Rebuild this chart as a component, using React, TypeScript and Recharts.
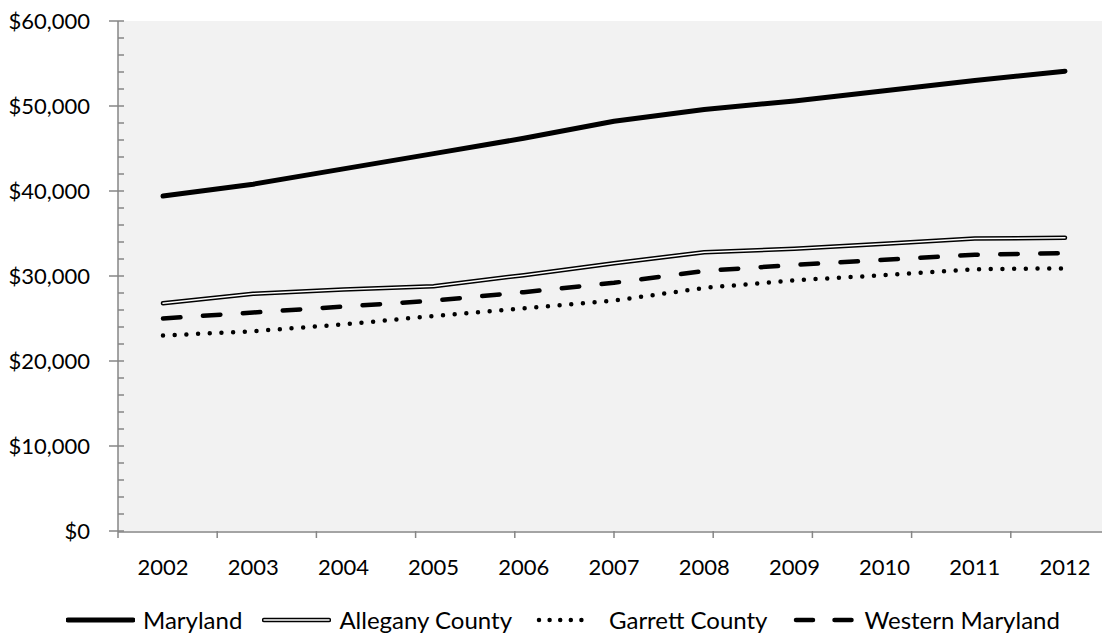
import React from 'react';
import { LineChart, Line, XAxis, YAxis, CartesianGrid, Legend } from 'recharts';

const years = ['2002', '2003', '2004', '2005', '2006', '2007', '2008', '2009', '2010', '2011', '2012'];
const maryland = [39400, 40800, 42600, 44400, 46200, 48200, 49600, 50600, 51800, 53000, 54100];
const allegany = [26800, 27900, 28400, 28800, 30100, 31500, 32800, 33200, 33800, 34400, 34500];
const garrett = [23000, 23500, 24300, 25300, 26200, 27100, 28600, 29500, 30100, 30800, 30900];
const western = [25000, 25700, 26400, 27100, 28100, 29200, 30600, 31300, 31900, 32500, 32700];
const yTicks = [0, 10000, 20000, 30000, 40000, 50000, 60000];
const yMinorTicks = [0, 2000, 4000, 6000, 8000, 10000, 12000, 14000, 16000, 18000, 20000, 22000, 24000, 26000, 28000, 30000, 32000, 34000, 36000, 38000, 40000, 42000, 44000, 46000, 48000, 50000, 52000, 54000, 56000, 58000, 60000];
const edgeTicks = [0, 1, 2, 3, 4, 5, 6, 7, 8, 9, 10, 11];
const seriesNames = ['Maryland', 'Allegany County', 'Garrett County', 'Western Maryland'];

const data = years.map((y, i) => ({
  year: y,
  maryland: maryland[i],
  allegany: allegany[i],
  garrett: garrett[i],
  western: western[i],
}));

const FONT = 'Lato, "Open Sans", sans-serif';
const AXIS = '#868686';

const fmt = (v: number) => '$' + v.toLocaleString('en-US');
const blank = () => '';

function Icon({ kind }: { kind: number }) {
  return (
    <svg width={69} height={12} style={{ display: 'block' }}>
      {kind === 0 && <line x1={2} y1={6} x2={67} y2={6} stroke="#000" strokeWidth={5} strokeLinecap="round" />}
      {kind === 1 && (
        <g>
          <line x1={2} y1={6} x2={67} y2={6} stroke="#000" strokeWidth={4.5} strokeLinecap="round" />
          <line x1={2} y1={6} x2={67} y2={6} stroke="#fff" strokeWidth={1.5} strokeLinecap="round" />
        </g>
      )}
      {kind === 2 && <line x1={7} y1={6} x2={60} y2={6} stroke="#000" strokeWidth={4.5} strokeLinecap="round" strokeDasharray="0 10.6" />}
      {kind === 3 && <line x1={9} y1={6} x2={69} y2={6} stroke="#000" strokeWidth={4.5} strokeLinecap="round" strokeDasharray="17 21.5" />}
    </svg>
  );
}

function LegendContent() {
  return (
    <div style={{ display: 'flex', justifyContent: 'flex-start', alignItems: 'center', height: 28, paddingLeft: 66, fontFamily: FONT, fontSize: 24, color: '#000' }}>
      {seriesNames.map((n, i) => (
        <div key={n} style={{ display: 'flex', alignItems: 'center', marginRight: i < seriesNames.length - 1 ? 20 : 0 }}>
          <Icon kind={i} />
          <span style={{ marginLeft: 8, lineHeight: '28px', whiteSpace: 'nowrap' }}>{n}</span>
        </div>
      ))}
    </div>
  );
}

export default function App() {
  return (
    <div style={{ position: 'absolute', left: 0, top: 0, width: 1102, height: 636, overflow: 'hidden', background: '#fff' }}>
      <LineChart width={1110} height={636} data={data} margin={{ top: 21, right: 0, bottom: 0, left: 0 }} style={{ fontFamily: FONT }}>
        <CartesianGrid horizontal={false} vertical={false} fill="#f2f2f2" />
        <XAxis xAxisId={0} type="number" domain={[0, 11]} ticks={edgeTicks} height={1} tick={{ fill: 'none', fontSize: 1 }} tickFormatter={blank} axisLine={false} tickSize={7} tickLine={{ stroke: AXIS, strokeWidth: 1.5 }} allowDataOverflow interval={0} />
        <XAxis xAxisId={1} dataKey="year" height={104} padding={{ left: 45, right: 45 }} tickLine={false} tickSize={7} tickMargin={20} axisLine={{ stroke: AXIS, strokeWidth: 1.5 }} tick={{ fill: '#000', fontSize: 22, fontFamily: FONT }} interval={0} />
        <YAxis yAxisId={0} width={118} domain={[0, 60000]} ticks={yTicks} tickFormatter={fmt} tickSize={9} tickMargin={19} axisLine={{ stroke: AXIS, strokeWidth: 1.5 }} tickLine={{ stroke: AXIS, strokeWidth: 1.5 }} tick={{ fill: '#000', fontSize: 22, fontFamily: FONT }} interval={0} />
        <YAxis yAxisId={1} mirror domain={[0, 60000]} ticks={yMinorTicks} allowDataOverflow tick={{ fill: 'none', fontSize: 1 }} tickFormatter={blank} axisLine={false} tickSize={6} tickLine={{ stroke: AXIS, strokeWidth: 1.5 }} interval={0} />
        <Line xAxisId={1} yAxisId={0} dataKey="maryland" stroke="#000" strokeWidth={5} dot={false} isAnimationActive={false} strokeLinecap="round" strokeLinejoin="round" />
        <Line xAxisId={1} yAxisId={0} dataKey="allegany" stroke="#000" strokeWidth={4.5} dot={false} isAnimationActive={false} strokeLinecap="round" strokeLinejoin="round" />
        <Line xAxisId={1} yAxisId={0} dataKey="allegany" stroke="#fff" strokeWidth={1.5} dot={false} isAnimationActive={false} strokeLinecap="round" strokeLinejoin="round" />
        <Line xAxisId={1} yAxisId={0} dataKey="garrett" stroke="#000" strokeWidth={4.5} strokeDasharray="0 11.7" dot={false} isAnimationActive={false} strokeLinecap="round" strokeLinejoin="round" />
        <Line xAxisId={1} yAxisId={0} dataKey="western" stroke="#000" strokeWidth={4.5} strokeDasharray="17.5 22.5" dot={false} isAnimationActive={false} strokeLinecap="round" strokeLinejoin="round" />
        <Legend layout="horizontal" verticalAlign="middle" align="center" wrapperStyle={{ top: 606, left: 0, width: 1102, height: 28 }} content={() => <LegendContent />} />
      </LineChart>
    </div>
  );
}
